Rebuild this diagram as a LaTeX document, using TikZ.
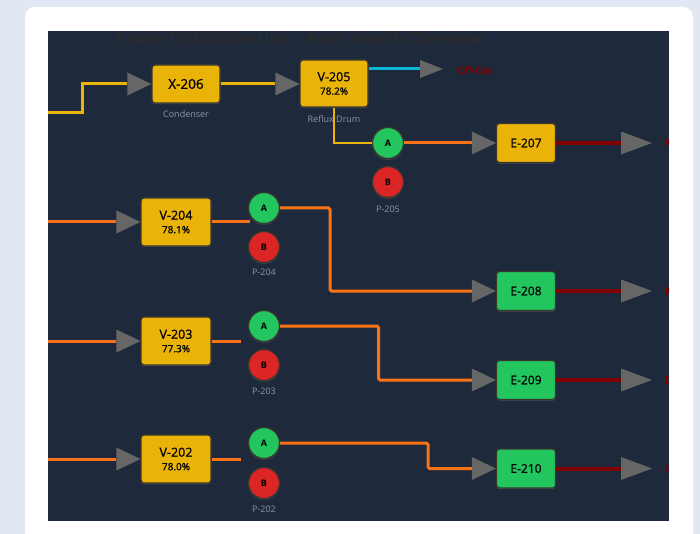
\documentclass[tikz,border=0pt]{standalone}
\usepackage{fontspec}
\setmainfont{Open Sans}
\newfontfamily\semib{Open Sans}[FakeBold=0.8]
\usetikzlibrary{arrows.meta,shadows}
\definecolor{pagebg}{RGB}{226,232,243}
\definecolor{panel}{RGB}{30,41,59}
\definecolor{boxyellow}{RGB}{234,179,8}
\definecolor{boxgreen}{RGB}{34,197,94}
\definecolor{pumpred}{RGB}{220,38,38}
\definecolor{boxedge}{RGB}{58,54,46}
\definecolor{flowyellow}{RGB}{234,179,8}
\definecolor{floworange}{RGB}{249,115,22}
\definecolor{flowcyan}{RGB}{6,182,212}
\definecolor{flowred}{RGB}{128,0,0}
\definecolor{tipgray}{RGB}{102,102,102}
\definecolor{captiongray}{RGB}{140,150,168}
\definecolor{titlecol}{RGB}{46,44,42}
\tikzset{
  InTip/.tip={Triangle[length=24pt,width=23pt,color=tipgray,line width=0pt]},
  OutTip/.tip={Triangle[length=31pt,width=23pt,color=tipgray,line width=0pt]},
  GasTip/.tip={Triangle[length=23pt,width=18pt,color=tipgray,line width=0pt]},
  unit/.style={draw=boxedge, line width=1.2pt, rounded corners=3pt, text=black,
    align=center, inner sep=0pt,
    drop shadow={opacity=0.45, shadow xshift=0pt, shadow yshift=-1.2pt}},
  vessel/.style={unit, fill=boxyellow, minimum width=70pt, minimum height=48pt},
  exch/.style={unit, minimum width=59pt, minimum height=39pt, font=\semib\fontsize{12}{14}\selectfont},
  pump/.style={circle, draw=boxedge, line width=1.2pt, minimum size=31pt, inner sep=0pt,
    text=black, font=\fontsize{9}{10}\selectfont\bfseries,
    drop shadow={opacity=0.45, shadow xshift=0pt, shadow yshift=-1.2pt}},
  pumpA/.style={pump, fill=boxgreen},
  pumpB/.style={pump, fill=pumpred},
  caption/.style={text=captiongray, font=\fontsize{9}{10}\selectfont, inner sep=0pt},
  outlabel/.style={text=flowred, font=\semib\fontsize{10}{12}\selectfont, anchor=west, inner sep=0pt},
  flow/.style={line width=3pt},
  flowthin/.style={line width=2pt},
  flowthick/.style={line width=4pt},
}
\newcommand{\twoline}[2]{{\semib\fontsize{12.5}{14}\selectfont #1}\\[1.5pt]{\semib\fontsize{10}{12}\selectfont #2}}
\begin{document}
\begin{tikzpicture}[x=1pt,y=-1pt]
\useasboundingbox (0,0) rectangle (700,534);
\fill[pagebg] (0,0) rectangle (700,534);
\fill[white, rounded corners=10pt] (25,7) rectangle (693,560);
\fill[panel] (48,31) rectangle (669,521);
\begin{scope}
\clip (48,31) rectangle (669,521);
\node[text=titlecol, font=\semib\fontsize{17}{20}\selectfont, inner sep=0pt, anchor=base] (title) at (299,44) {Crude Distillation Unit - Asset Health Overview};

% units
\node[unit, fill=boxyellow, minimum width=68pt, minimum height=38pt, font=\semib\fontsize{13.5}{16}\selectfont] (x206) at (186,84) {X-206};
\node[caption] (x206c) at (186,114) {Condenser};
\node[vessel, minimum width=68pt, minimum height=47pt] (v205) at (334,83.5) {\twoline{V-205}{78.2\%}};
\node[caption] (v205c) at (334,119) {Reflux Drum};
\node[exch, fill=boxyellow] (e207) at (526,143) {E-207};
\node[pumpA] (a205) at (388,143) {A};
\node[pumpB] (b205) at (388,182) {B};
\node[caption] (p205) at (388,209) {P-205};

\node[vessel] (v204) at (176,222) {\twoline{V-204}{78.1\%}};
\node[pumpA] (a204) at (264,208) {A};
\node[pumpB] (b204) at (264,247) {B};
\node[caption] (p204) at (264,272) {P-204};
\node[exch, fill=boxgreen] (e208) at (526,291) {E-208};

\node[vessel] (v203) at (176,341) {\twoline{V-203}{77.3\%}};
\node[pumpA] (a203) at (264,326) {A};
\node[pumpB] (b203) at (264,365) {B};
\node[caption] (p203) at (264,391) {P-203};
\node[exch, fill=boxgreen] (e209) at (526,380) {E-209};

\node[vessel] (v202) at (176,459) {\twoline{V-202}{78.0\%}};
\node[pumpA] (a202) at (264,443) {A};
\node[pumpB] (b202) at (264,483) {B};
\node[caption] (p202) at (264,509) {P-202};
\node[exch, fill=boxgreen] (e210) at (526,468.5) {E-210};

% free ends
\coordinate (in206) at (46,113);
\coordinate (in204) at (46,222);
\coordinate (in203) at (46,341);
\coordinate (in202) at (46,459);
\coordinate (gas) at (443,69);
\coordinate (out207) at (652,143);
\coordinate (out208) at (652,291);
\coordinate (out209) at (652,380);
\coordinate (out210) at (652,468.5);

% flows
\draw[flow, flowyellow, -InTip] (in206) -- (82,113) |- (x206.west);
\draw[flow, flowyellow, -InTip] (x206.east) -- (x206.east -| v205.west);
\draw[flow, flowcyan, -GasTip] ([yshift=14.5pt]v205.east) -- (gas);
\node[outlabel] (gasl) at (457,70) {Off-Gas};
\draw[flowthin, flowyellow] (v205.south) |- (a205.west);
\draw[flow, floworange, -InTip] (a205.east) -- (e207.west);
\draw[flowthick, flowred, -OutTip] (e207.east) -- (out207);
\node[outlabel] (l207) at (665,143) {Naphtha};

\draw[flow, floworange, -InTip] (in204) -- (v204.west);
\draw[flow, floworange] (v204.east) -- ++(38,0);
\draw[flow, floworange, -InTip, rounded corners=1.5pt] (a204.east) -- ++(50,0) |- (e208.west);
\draw[flowthick, flowred, -OutTip] (e208.east) -- (out208);
\node[outlabel] (l208) at (665,291) {Kerosene};

\draw[flow, floworange, -InTip] (in203) -- (v203.west);
\draw[flow, floworange] (v203.east) -- ++(29,0);
\draw[flow, floworange, -InTip, rounded corners=1.5pt] (a203.east) -- ++(98.5,0) |- (e209.west);
\draw[flowthick, flowred, -OutTip] (e209.east) -- (out209);
\node[outlabel] (l209) at (665,380) {Diesel};

\draw[flow, floworange, -InTip] (in202) -- (v202.west);
\draw[flow, floworange] (v202.east) -- ++(29,0);
\draw[flow, floworange, -InTip, rounded corners=1.5pt] (a202.east) -- ++(148,0) |- (e210.west);
\draw[flowthick, flowred, -OutTip] (e210.east) -- (out210);
\node[outlabel] (l210) at (665,468.5) {Gas Oil};
\end{scope}
\end{tikzpicture}
\end{document}
